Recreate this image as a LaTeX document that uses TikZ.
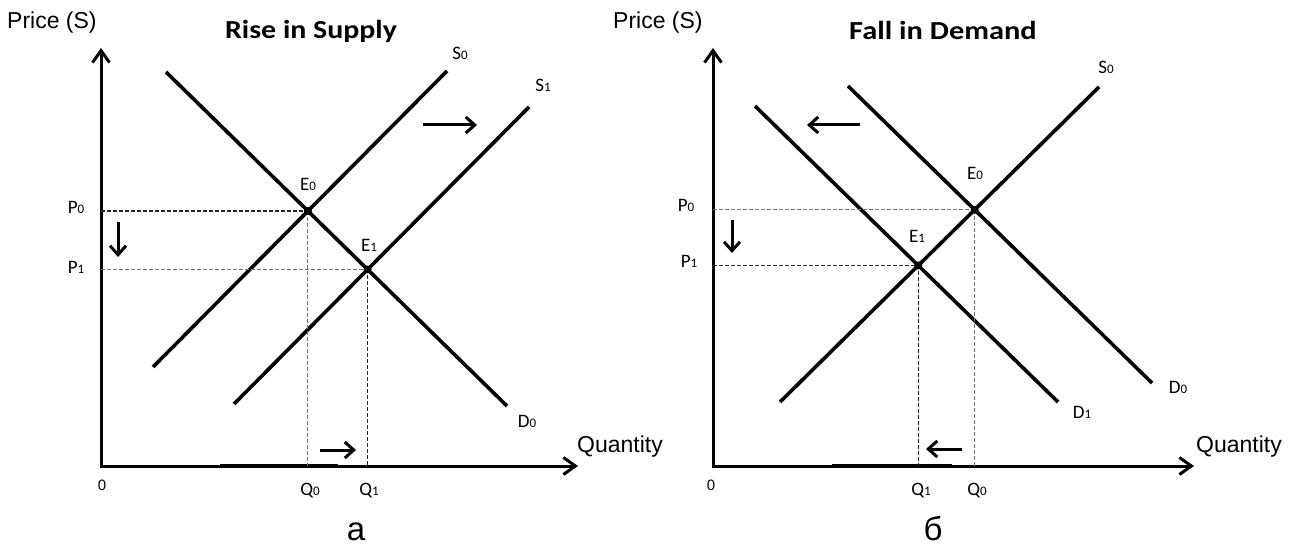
\documentclass[tikz,border=0pt]{standalone}
\usepackage{fontspec}
\setmainfont{Liberation Sans}
\newfontfamily\calfont{Carlito}
\usetikzlibrary{arrows.meta,intersections}
\newcommand\lsub[2]{#1{\fontsize{13}{13}\selectfont #2}}
\begin{document}
\begin{tikzpicture}[x=1pt,y=-1pt,
  axisline/.style={line width=3pt,{Straight Barb[length=12pt,width=17pt]}-{Straight Barb[length=12pt,width=17pt]}},
  axisthick/.style={line width=4.5pt},
  curve/.style={line width=3.6pt},
  shiftarrow/.style={line width=3pt,-{Straight Barb[length=9pt,width=16pt]}},
  guidedark/.style={line width=1.4pt,dash pattern=on 4pt off 2pt,black!85},
  guidegray/.style={line width=1pt,dash pattern=on 4pt off 2pt,black!55},
  eqdot/.style={circle,fill=black,inner sep=0pt,minimum size=8pt},
  lab/.style={font=\calfont\fontsize{19}{19}\selectfont,inner sep=0pt,anchor=base},
  axlab/.style={font=\fontsize{23}{23}\selectfont,inner sep=0pt,anchor=base west},
  title/.style={font=\calfont\bfseries\fontsize{26}{26}\selectfont,inner sep=0pt,anchor=base},
  zero/.style={font=\fontsize{15}{15}\selectfont,inner sep=0pt,anchor=base},
  panel/.style={font=\fontsize{33}{33}\selectfont,inner sep=0pt,anchor=base}
]
\useasboundingbox (0,0) rectangle (1291,545);

% ---------------- Left panel ----------------
\coordinate (O1) at (101,466);
\coordinate (Y1) at (101,48);
\coordinate (X1) at (578,466);
\draw[axisthick] (220,466) -- (338,466);
\draw[axisline] (Y1) -- (O1) -- (X1);

\draw[curve,name path=d0l] (166,72) -- (507,406);
\draw[curve,name path=s0l] (153,367) -- (447,71);
\draw[curve,name path=s1l] (234,404) -- (529,107);
\path[name intersections={of=d0l and s0l,by=E0L}];
\path[name intersections={of=d0l and s1l,by=E1L}];

\draw[guidedark] (E0L -| O1) -- (E0L);
\draw[guidegray] (E0L) -- (E0L |- O1);
\draw[guidegray] (E1L -| O1) -- (E1L);
\draw[guidedark] (E1L) -- (E1L |- O1);
\node[eqdot] (e0l) at (E0L) {};
\node[eqdot] (e1l) at (E1L) {};

\coordinate (ra1) at (423,125); \coordinate (ra2) at (477,125);
\draw[shiftarrow] (ra1) -- (ra2);
\coordinate (da1) at (118,222); \coordinate (da2) at (118,257);
\draw[shiftarrow] (da1) -- (da2);
\coordinate (ba1) at (320,450); \coordinate (ba2) at (356,450);
\draw[shiftarrow] (ba1) -- (ba2);

\node[axlab] (py1) at (7,29) {Price (S)};
\node[title] (t1) at (311,39) {\scalebox{1.15}[1]{Rise in Supply}};
\node[lab] (s0l) at (460,60) {\lsub{S}{0}};
\node[lab] (s1l) at (543,92) {\lsub{S}{1}};
\node[lab] (e0ll) at (308,191) {\lsub{E}{0}};
\node[lab] (e1ll) at (369,252) {\lsub{E}{1}};
\node[lab] (p0l) at (76,214) {\lsub{P}{0}};
\node[lab] (p1l) at (76,274) {\lsub{P}{1}};
\node[lab] (d0ll) at (527,427) {\lsub{D}{0}};
\node[lab] (q0l) at (310,495) {\lsub{Q}{0}};
\node[lab] (q1l) at (369,495) {\lsub{Q}{1}};
\node[zero] (z1) at (102,490) {0};
\node[axlab] (qx1) at (577,452) {Quantity};
\node[panel] (pa) at (356,540) {а};

% ---------------- Right panel ----------------
\coordinate (O2) at (713,466);
\coordinate (Y2) at (713,48);
\coordinate (X2) at (1194,466);
\draw[axisthick] (832,466) -- (952,466);
\draw[axisline] (Y2) -- (O2) -- (X2);

\draw[curve,name path=s0r] (780,402) -- (1099,87);
\draw[curve,name path=d0r] (848,86) -- (1152,383);
\draw[curve,name path=d1r] (755,106) -- (1058,402);
\path[name intersections={of=s0r and d0r,by=E0R}];
\path[name intersections={of=s0r and d1r,by=E1R}];

\draw[guidegray] (E0R -| O2) -- (E0R);
\draw[guidegray] (E0R) -- (E0R |- O2);
\draw[guidedark] (E1R -| O2) -- (E1R);
\draw[guidedark,line width=1pt] (E1R) -- (E1R |- O2);
\node[eqdot] (e0r) at (E0R) {};
\node[eqdot] (e1r) at (E1R) {};

\coordinate (la1) at (860,125); \coordinate (la2) at (807,125);
\draw[shiftarrow] (la1) -- (la2);
\coordinate (db1) at (732,220); \coordinate (db2) at (732,253);
\draw[shiftarrow] (db1) -- (db2);
\coordinate (bb1) at (962,449); \coordinate (bb2) at (926,449);
\draw[shiftarrow] (bb1) -- (bb2);

\node[axlab] (py2) at (613,29) {Price (S)};
\node[title] (t2) at (943,40) {\scalebox{1.17}[1]{Fall in Demand}};
\node[lab] (s0rl) at (1106,74) {\lsub{S}{0}};
\node[lab] (e0rl) at (975,180) {\lsub{E}{0}};
\node[lab] (e1rl) at (917,243) {\lsub{E}{1}};
\node[lab] (p0r) at (686,212) {\lsub{P}{0}};
\node[lab] (p1r) at (689,268) {\lsub{P}{1}};
\node[lab] (d0rl) at (1178,393) {\lsub{D}{0}};
\node[lab] (d1rl) at (1082,418) {\lsub{D}{1}};
\node[lab] (q1r) at (921,495) {\lsub{Q}{1}};
\node[lab] (q0r) at (977,495) {\lsub{Q}{0}};
\node[zero] (z2) at (711,490) {0};
\node[axlab] (qx2) at (1196,452) {Quantity};
\node[panel] (pb) at (933,540) {б};
\end{tikzpicture}
\end{document}
